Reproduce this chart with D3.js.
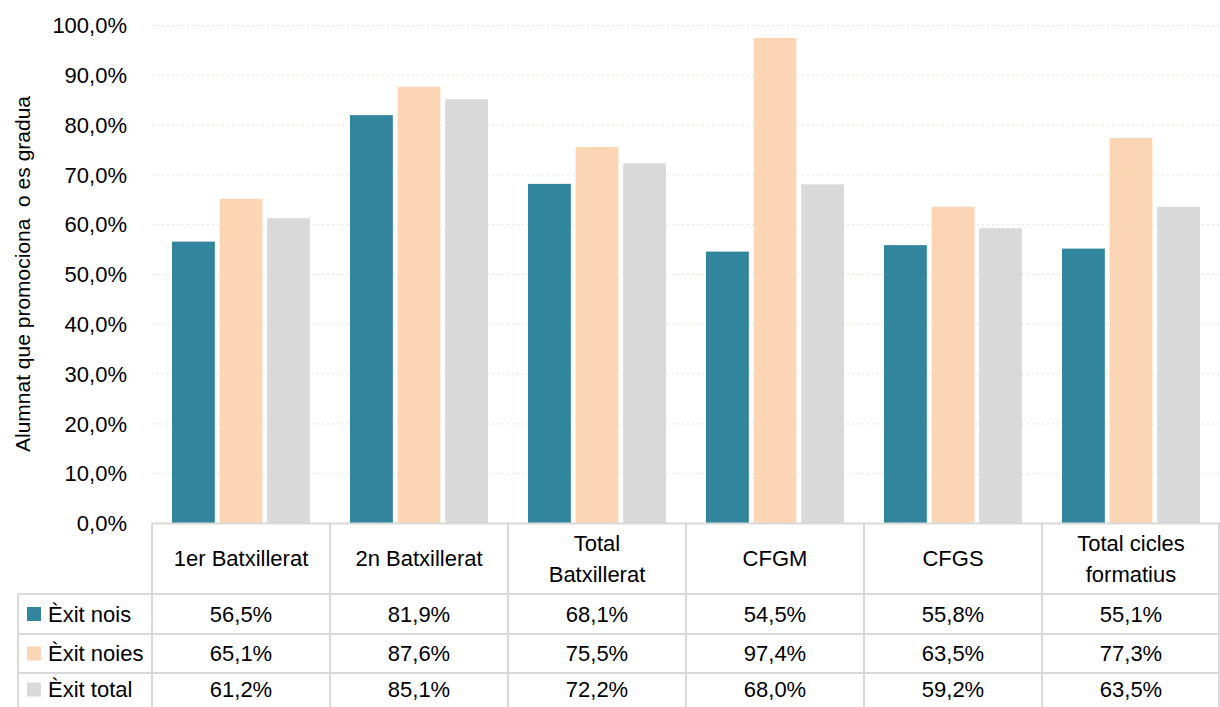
<!DOCTYPE html>
<html>
<head>
<meta charset="utf-8">
<script src="https://cdn.jsdelivr.net/npm/d3@7"></script>
<style>
  body { margin: 0; background: #fff; }
  text { font-family: "Liberation Sans", Arial, sans-serif; fill: #000; }
</style>
</head>
<body>
<div id="chart"></div>
<script>
const categories = [
  ['1er Batxillerat'],
  ['2n Batxillerat'],
  ['Total', 'Batxillerat'],
  ['CFGM'],
  ['CFGS'],
  ['Total cicles', 'formatius']
];
const seriesNames = ['Èxit nois', 'Èxit noies', 'Èxit total'];
const exitNois = [56.5, 81.9, 68.1, 54.5, 55.8, 55.1];
const exitNoies = [65.1, 87.6, 75.5, 97.4, 63.5, 77.3];
const exitTotal = [61.2, 85.1, 72.2, 68.0, 59.2, 63.5];
const colors = ['#31859c', '#fcd5b5', '#d9d9d9'];
const yTicks = [0, 10, 20, 30, 40, 50, 60, 70, 80, 90, 100];

const series = [exitNois, exitNoies, exitTotal];
const width = 1220, height = 707;
const plotLeft = 152, plotRight = 1220, plotTop = 25, plotBottom = 523;
const tableLeft = 18;
const rowLines = [594, 634, 673, 712];
const fontSize = 22;

const fmt = v => v.toFixed(1).replace('.', ',') + '%';

const svg = d3.select('#chart').append('svg')
  .attr('width', width)
  .attr('height', height);

const x = d3.scaleBand()
  .domain(d3.range(categories.length))
  .range([plotLeft, plotRight]);

const xs = d3.scaleBand()
  .domain(d3.range(series.length))
  .range([20, x.bandwidth() - 20])
  .paddingInner(0.1);

const y = d3.scaleLinear().domain([0, 100]).range([plotBottom, plotTop]);

// gridlines
svg.append('g')
  .selectAll('line')
  .data(yTicks.filter(t => t > 0))
  .join('line')
  .attr('x1', plotLeft)
  .attr('x2', plotRight)
  .attr('y1', d => y(d) + 0.5)
  .attr('y2', d => y(d) + 0.5)
  .attr('stroke', '#e3e3d3')
  .attr('stroke-width', 1)
  .attr('stroke-dasharray', '2,3');

// y axis labels
const yAxis = d3.axisLeft(y).tickValues(yTicks).tickSize(0).tickPadding(0)
  .tickFormat(d => fmt(d));
svg.append('g')
  .attr('transform', `translate(${127},0)`)
  .call(yAxis)
  .call(g => g.select('.domain').remove())
  .selectAll('text')
  .attr('font-size', fontSize)
  .attr('dy', '0.35em')
  .style('font-family', '"Liberation Sans", Arial, sans-serif');

// y axis title
svg.append('text')
  .attr('transform', `translate(30,274) rotate(-90)`)
  .attr('text-anchor', 'middle')
  .attr('font-size', 21)
  .attr('xml:space', 'preserve')
  .text('Alumnat que promociona  o es gradua');

// bars
const groups = svg.append('g')
  .selectAll('g')
  .data(categories.map((c, i) => i))
  .join('g')
  .attr('transform', i => `translate(${x(i)},0)`);

groups.selectAll('rect')
  .data(i => series.map((s, k) => ({ k, v: s[i] })))
  .join('rect')
  .attr('x', d => xs(d.k))
  .attr('width', xs.bandwidth())
  .attr('y', d => y(d.v))
  .attr('height', d => y(0) - y(d.v))
  .attr('fill', d => colors[d.k]);

// data table
const table = svg.append('g');
const lineColor = '#d9d9d9';

table.append('line')
  .attr('x1', plotLeft).attr('x2', plotRight)
  .attr('y1', plotBottom + 0.5).attr('y2', plotBottom + 0.5)
  .attr('stroke', lineColor).attr('stroke-width', 2);

table.selectAll('.hrow')
  .data(rowLines.slice(0, 3))
  .join('line')
  .attr('class', 'hrow')
  .attr('x1', tableLeft).attr('x2', plotRight)
  .attr('y1', d => d).attr('y2', d => d)
  .attr('stroke', lineColor).attr('stroke-width', 2);

table.selectAll('.vcol')
  .data(d3.range(categories.length + 1))
  .join('line')
  .attr('class', 'vcol')
  .attr('x1', i => i < categories.length ? x(i) : plotRight - 1)
  .attr('x2', i => i < categories.length ? x(i) : plotRight - 1)
  .attr('y1', plotBottom).attr('y2', height)
  .attr('stroke', lineColor).attr('stroke-width', 2);

table.append('line')
  .attr('x1', tableLeft).attr('x2', tableLeft)
  .attr('y1', rowLines[0]).attr('y2', height)
  .attr('stroke', lineColor).attr('stroke-width', 2);

// header labels
categories.forEach((lines, i) => {
  const cx = x(i) + x.bandwidth() / 2;
  const cy = (plotBottom + rowLines[0]) / 2;
  const t = table.append('text')
    .attr('text-anchor', 'middle')
    .attr('font-size', fontSize);
  lines.forEach((ln, j) => {
    t.append('tspan')
      .attr('x', cx)
      .attr('y', cy + (j - (lines.length - 1) / 2) * 31)
      .attr('dy', '0.35em')
      .text(ln);
  });
});

// series rows
seriesNames.forEach((name, k) => {
  const cy = (rowLines[k] + rowLines[k + 1]) / 2 - (k === 2 ? 3 : 0);
  table.append('rect')
    .attr('x', 27).attr('y', cy - 7)
    .attr('width', 14).attr('height', 14)
    .attr('fill', colors[k]);
  table.append('text')
    .attr('x', 48).attr('y', cy).attr('dy', '0.35em')
    .attr('font-size', fontSize)
    .text(name);
  series[k].forEach((v, i) => {
    table.append('text')
      .attr('x', x(i) + x.bandwidth() / 2)
      .attr('y', cy).attr('dy', '0.35em')
      .attr('text-anchor', 'middle')
      .attr('font-size', fontSize)
      .text(fmt(v));
  });
});
</script>
</body>
</html>
